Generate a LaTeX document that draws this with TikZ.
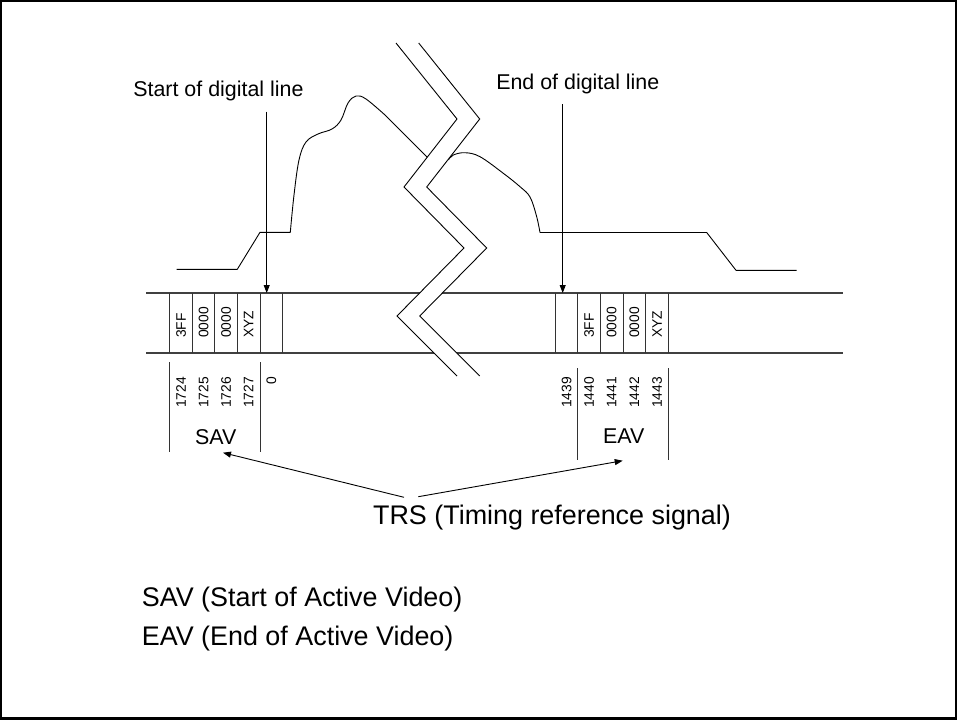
\documentclass[tikz,border=0pt]{standalone}
\usepackage{fontspec}
\setmainfont{Liberation Sans}
\usetikzlibrary{arrows.meta}
\begin{document}
\begin{tikzpicture}[x=1pt,y=-1pt,
  wave/.style={line width=0.9pt, line join=round},
  band/.style={line width=1.2pt, draw=black!75},
  cellline/.style={line width=1pt, draw=black!80},
  brk/.style={line width=0.9pt},
  ptr/.style={line width=0.9pt, -{Triangle[length=8pt,width=6pt]}},
  celltxt/.style={rotate=90, anchor=west, inner sep=0pt, font=\fontsize{13.8}{14}\selectfont},
  numtxt/.style={rotate=90, anchor=east, inner sep=0pt, font=\fontsize{13.8}{14}\selectfont},
  lbl/.style={inner sep=0pt, font=\fontsize{21.4}{22}\selectfont},
  big/.style={inner sep=0pt, font=\fontsize{26.9}{27}\selectfont}
]
\useasboundingbox (0,0) rectangle (957,720);
\draw[line width=2.2pt] (1.1,1.1) rectangle (955.9,718.4);

% band
\draw[band] (146,293) -- (843,293);
\draw[band] (146,353) -- (843,353);
% left cells
\foreach \x in {169,192,214.7,237.3,260,282.7} \draw[cellline] (\x,293) -- (\x,353);
% right cells
\foreach \x in {555,577.7,600.3,623,645.7,668.3} \draw[cellline] (\x,293) -- (\x,353);

% cell texts left
\node[celltxt] (l1) at (181,338) {3FF};
\node[celltxt] (l2) at (203.6,338) {0000};
\node[celltxt] (l3) at (226,338) {0000};
\node[celltxt] (l4) at (248.6,338) {XYZ};
% cell texts right
\node[celltxt] (r1) at (589,338) {3FF};
\node[celltxt] (r2) at (611.7,338) {0000};
\node[celltxt] (r3) at (634.3,338) {0000};
\node[celltxt] (r4) at (657,338) {XYZ};

% numbers
\node[numtxt] (n1) at (181,377) {1724};
\node[numtxt] (n2) at (203.6,377) {1725};
\node[numtxt] (n3) at (226,377) {1726};
\node[numtxt] (n4) at (248.6,377) {1727};
\node[numtxt] (n5) at (271.3,377) {0};
\node[numtxt] (m0) at (566.5,377) {1439};
\node[numtxt] (m1) at (589,377) {1440};
\node[numtxt] (m2) at (611.7,377) {1441};
\node[numtxt] (m3) at (634.3,377) {1442};
\node[numtxt] (m4) at (657,377) {1443};

% brackets
\draw[cellline] (169,362) -- (169,452);
\draw[cellline] (260,362) -- (260,452);
\draw[cellline] (577.7,368) -- (577.7,460);
\draw[cellline] (668.3,368) -- (668.3,460);

\node[lbl, anchor=base] (sav) at (215.8,444) {SAV};
\node[lbl, anchor=base] (eav) at (623.8,443.5) {EAV};

% waveform
\draw[wave] (176.7,269.3) -- (237.3,269.3) -- (260,232.3) -- (290.3,232.3)
  plot[smooth, tension=0.6] coordinates {(290.3,232.3) (294,195) (299,160) (306,142) (318,134) (332,129) (341,120) (348,103) (356,96) (366,99) (385,115)}
  -- (427,157);
\draw[wave] plot[smooth, tension=0.6] coordinates {(448.3,160) (453.3,155) (465,152.7) (480,156.7) (503.3,173.3) (520,186.7) (530,197) (536.5,216) (540,232.5)}
  -- (706.7,232.5) -- (736,270.3) -- (796.7,270.3);

% break
\fill[white] (396,43) -- (457,119) -- (404,187) -- (464,248) -- (397,316) -- (457,376)
  -- (479.7,376) -- (419.7,316) -- (486.7,248) -- (426.7,187) -- (479.7,119) -- (418.7,43) -- cycle;
\draw[brk] (396,43) -- (457,119) -- (404,187) -- (464,248) -- (397,316) -- (457,376);
\draw[brk] (418.7,43) -- (479.7,119) -- (426.7,187) -- (486.7,248) -- (419.7,316) -- (479.7,376);

% pointer labels
\node[lbl, anchor=base] (sdl) at (218.4,96.7) {Start of digital line};
\node[lbl, anchor=base] (edl) at (577.8,89.3) {End of digital line};
\coordinate (sdlt) at (266.7,111.5);
\coordinate (sdlb) at (266.7,293);
\coordinate (edlt) at (562.7,104);
\coordinate (edlb) at (562.7,293);
\draw[ptr] (sdlt) -- (sdlb);
\draw[ptr] (edlt) -- (edlb);

% TRS
\node[big, anchor=base] (trs) at (552,524) {TRS (Timing reference signal)};
\coordinate (trsl) at (404,497.3);
\coordinate (trsr) at (418.3,496.7);
\coordinate (savt) at (223,452.7);
\coordinate (eavt) at (622.7,460.7);
\draw[ptr] (trsl) -- (savt);
\draw[ptr] (trsr) -- (eavt);

% legend
\node[big, anchor=base west] (leg1) at (141.7,606.7) {SAV (Start of Active Video)};
\node[big, anchor=base west] (leg2) at (141.7,645) {EAV (End of Active Video)};
\end{tikzpicture}
\end{document}
